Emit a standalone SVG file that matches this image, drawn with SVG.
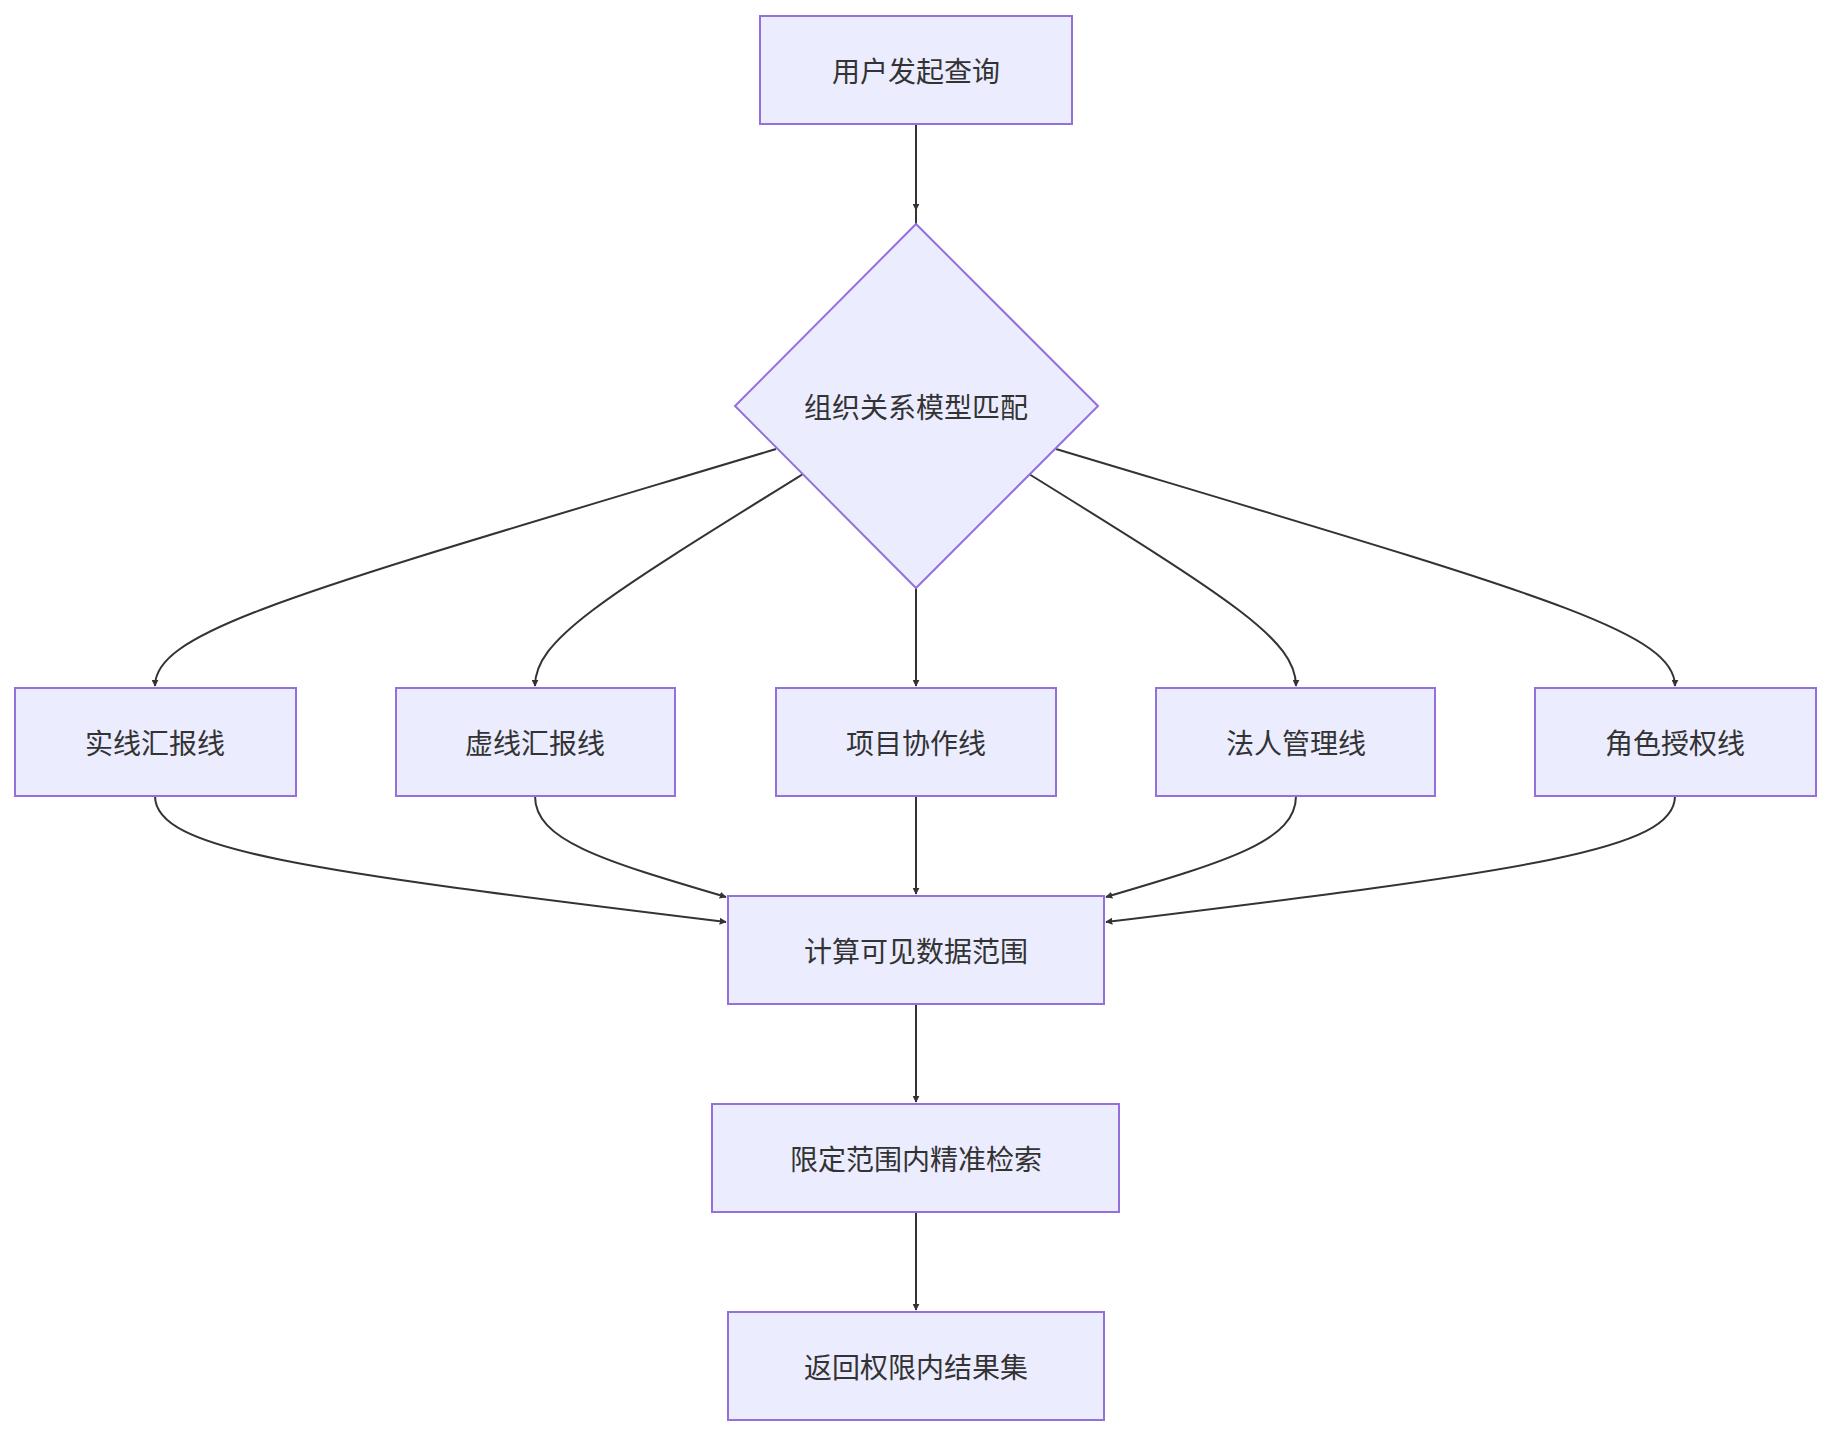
<svg xmlns="http://www.w3.org/2000/svg" width="1832" height="1436" viewBox="0 0 1832 1436">
<style>
.n{fill:#ECECFF;stroke:#9370DB;stroke-width:2}
.t{font-family:"Noto Sans CJK SC","Liberation Sans",sans-serif;font-size:28px;fill:#333;text-anchor:middle;dominant-baseline:central}
.e{fill:none;stroke:#333;stroke-width:2;marker-end:url(#a)}
</style>
<defs><marker id="a" viewBox="0 0 10 10" refX="9" refY="5" markerWidth="7" markerHeight="7" markerUnits="userSpaceOnUse" orient="auto"><path d="M0,0L10,5L0,10z" fill="#333"/></marker></defs>
<rect width="1832" height="1436" fill="#fff"/>
<g id="edges">
<path class="e" d="M916,124V224" style="marker-end:none"/>
<path d="M916,124V210" class="e"/>
<path class="e" d="M776,449C300,592 155,630 155,686"/>
<path class="e" d="M803,474C600,600 535,640 535,686"/>
<path class="e" d="M916,588V686"/>
<path class="e" d="M1029,474C1232,600 1296,640 1296,686"/>
<path class="e" d="M1056,449C1532,592 1675,630 1675,686"/>
<path class="e" d="M155,796C155,850 300,870 726,922"/>
<path class="e" d="M535,796C535,840 600,860 726,897"/>
<path class="e" d="M916,796V894"/>
<path class="e" d="M1296,796C1296,840 1232,860 1106,897"/>
<path class="e" d="M1675,796C1675,850 1532,870 1106,922"/>
<path class="e" d="M916,1004V1102"/>
<path class="e" d="M916,1212V1310"/>
</g>
<g id="start"><rect class="n" x="760" y="16" width="312" height="108"/><text class="t" x="916" y="70">用户发起查询</text></g>
<g id="match"><path class="n" d="M916,224L1098,406L916,588L735,406Z"/><text class="t" x="916" y="406">组织关系模型匹配</text></g>
<g id="l1"><rect class="n" x="15" y="688" width="281" height="108"/><text class="t" x="155" y="742">实线汇报线</text></g>
<g id="l2"><rect class="n" x="396" y="688" width="279" height="108"/><text class="t" x="535" y="742">虚线汇报线</text></g>
<g id="l3"><rect class="n" x="776" y="688" width="280" height="108"/><text class="t" x="916" y="742">项目协作线</text></g>
<g id="l4"><rect class="n" x="1156" y="688" width="279" height="108"/><text class="t" x="1296" y="742">法人管理线</text></g>
<g id="l5"><rect class="n" x="1535" y="688" width="281" height="108"/><text class="t" x="1675" y="742">角色授权线</text></g>
<g id="calc"><rect class="n" x="728" y="896" width="376" height="108"/><text class="t" x="916" y="950">计算可见数据范围</text></g>
<g id="search"><rect class="n" x="712" y="1104" width="407" height="108"/><text class="t" x="916" y="1158">限定范围内精准检索</text></g>
<g id="ret"><rect class="n" x="728" y="1312" width="376" height="108"/><text class="t" x="916" y="1366">返回权限内结果集</text></g>
</svg>
